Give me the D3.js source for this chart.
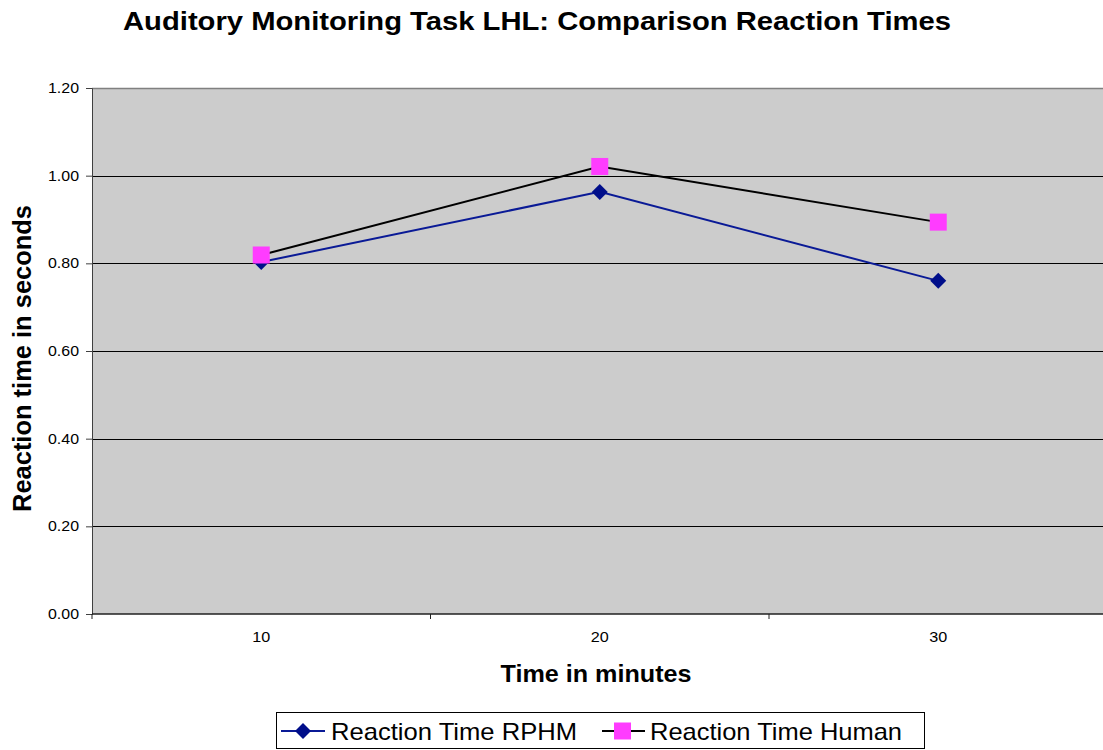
<!DOCTYPE html>
<html><head><meta charset="utf-8">
<script src="https://cdn.jsdelivr.net/npm/d3@7"></script>
<style>body{margin:0;background:#fff}svg{display:block;font-family:"Liberation Sans",Arial,sans-serif}</style>
</head><body><svg id="c" width="1103" height="750"></svg>
<script>
const categories = [10, 20, 30];
const rphm = [0.803, 0.963, 0.760];
const human = [0.819, 1.021, 0.894];
const yTicks = [0, 0.2, 0.4, 0.6, 0.8, 1.0, 1.2];
const seriesNames = ["Reaction Time RPHM", "Reaction Time Human"];

const svg = d3.select("#c");
const L = 92, T = 88, B = 614, R = 1107.5;
const x = d3.scaleBand().domain(categories).range([L, R]);
const y = d3.scaleLinear().domain([0, 1.2]).range([B, T]);

svg.append("rect").attr("x", L).attr("y", T).attr("width", R - L).attr("height", B - T).attr("fill", "#cccccc");
svg.append("line").attr("x1", L).attr("x2", R).attr("y1", T + 0.5).attr("y2", T + 0.5).attr("stroke", "#808080").attr("stroke-width", 1.5);

// gridlines
svg.append("g").selectAll("line").data(yTicks.filter(d => d > 0 && d < 1.2)).join("line")
  .attr("x1", L).attr("x2", R).attr("y1", d => Math.round(y(d)) + 0.5).attr("y2", d => Math.round(y(d)) + 0.5)
  .attr("stroke", "#000").attr("stroke-width", 1);

// y axis
const ya = svg.append("g").attr("transform", `translate(${L},0)`)
  .call(d3.axisLeft(y).tickValues(yTicks).tickFormat(d3.format(".2f")).tickSize(6).tickPadding(7));
ya.select(".domain").attr("stroke", "#404040");
ya.selectAll(".tick line").attr("stroke", "#404040");
ya.selectAll("text").attr("font-size", 14).attr("fill", "#000")
  .attr("font-family", "Liberation Sans, Arial, sans-serif")
  .attr("textLength", 31).attr("lengthAdjust", "spacingAndGlyphs");

// x axis
const xa = svg.append("g").attr("transform", `translate(0,${B})`);
xa.append("line").attr("x1", L).attr("x2", R).attr("y1", 0).attr("y2", 0).attr("stroke", "#202020").attr("stroke-width", 1.5);
const bounds = [L].concat(categories.map(c => x(c) + x.bandwidth()));
xa.selectAll("line.tk").data(bounds).join("line").attr("class", "tk")
  .attr("x1", d => d).attr("x2", d => d).attr("y1", 0).attr("y2", 5).attr("stroke", "#202020");
xa.selectAll("text").data(categories).join("text")
  .attr("x", d => x(d) + x.bandwidth() / 2).attr("y", 28).attr("text-anchor", "middle")
  .attr("font-size", 14).attr("textLength", 18).attr("lengthAdjust", "spacingAndGlyphs").text(d => d);

const cx = d => x(d) + x.bandwidth() / 2;
const line = d3.line().x((d, i) => cx(categories[i])).y(d => y(d));

svg.append("path").datum(rphm).attr("d", line).attr("fill", "none").attr("stroke", "#0a1a96").attr("stroke-width", 2);
svg.append("path").datum(human).attr("d", line).attr("fill", "none").attr("stroke", "#000").attr("stroke-width", 2);

svg.append("g").selectAll("path").data(rphm).join("path")
  .attr("transform", (d, i) => `translate(${cx(categories[i])},${y(d)})`)
  .attr("d", "M0,-8L8,0L0,8L-8,0Z").attr("fill", "#000e8a");
svg.append("g").selectAll("rect").data(human).join("rect")
  .attr("x", (d, i) => cx(categories[i]) - 8.5).attr("y", d => y(d) - 8.5)
  .attr("width", 17).attr("height", 17).attr("fill", "#ff3cff");

// title & labels
svg.append("text").attr("x", 537).attr("y", 30).attr("text-anchor", "middle")
  .attr("font-size", 26).attr("font-weight", "bold")
  .attr("textLength", 828).attr("lengthAdjust", "spacingAndGlyphs")
  .text("Auditory Monitoring Task LHL: Comparison Reaction Times");
svg.append("text").attr("x", 596).attr("y", 682).attr("text-anchor", "middle")
  .attr("font-size", 24).attr("font-weight", "bold")
  .attr("textLength", 191).attr("lengthAdjust", "spacingAndGlyphs")
  .text("Time in minutes");
svg.append("text").attr("transform", "translate(31,358.5) rotate(-90)").attr("text-anchor", "middle")
  .attr("font-size", 25).attr("font-weight", "bold")
  .attr("textLength", 307).attr("lengthAdjust", "spacingAndGlyphs")
  .text("Reaction time in seconds");

// legend
const lg = svg.append("g");
lg.append("rect").attr("x", 276.5).attr("y", 712.5).attr("width", 648).attr("height", 36).attr("fill", "#fff").attr("stroke", "#000");
lg.append("line").attr("x1", 281).attr("x2", 325).attr("y1", 731).attr("y2", 731).attr("stroke", "#0a1a96").attr("stroke-width", 2);
lg.append("path").attr("transform", "translate(303,731)").attr("d", "M0,-8L8,0L0,8L-8,0Z").attr("fill", "#000e8a");
lg.append("text").attr("x", 331).attr("y", 740).attr("font-size", 24)
  .attr("textLength", 246).attr("lengthAdjust", "spacingAndGlyphs").text(seriesNames[0]);
lg.append("line").attr("x1", 602).attr("x2", 645).attr("y1", 731).attr("y2", 731).attr("stroke", "#000").attr("stroke-width", 2);
lg.append("rect").attr("x", 614).attr("y", 722.5).attr("width", 17).attr("height", 17).attr("fill", "#ff3cff");
lg.append("text").attr("x", 650).attr("y", 740).attr("font-size", 24)
  .attr("textLength", 252).attr("lengthAdjust", "spacingAndGlyphs").text(seriesNames[1]);
</script></body></html>
